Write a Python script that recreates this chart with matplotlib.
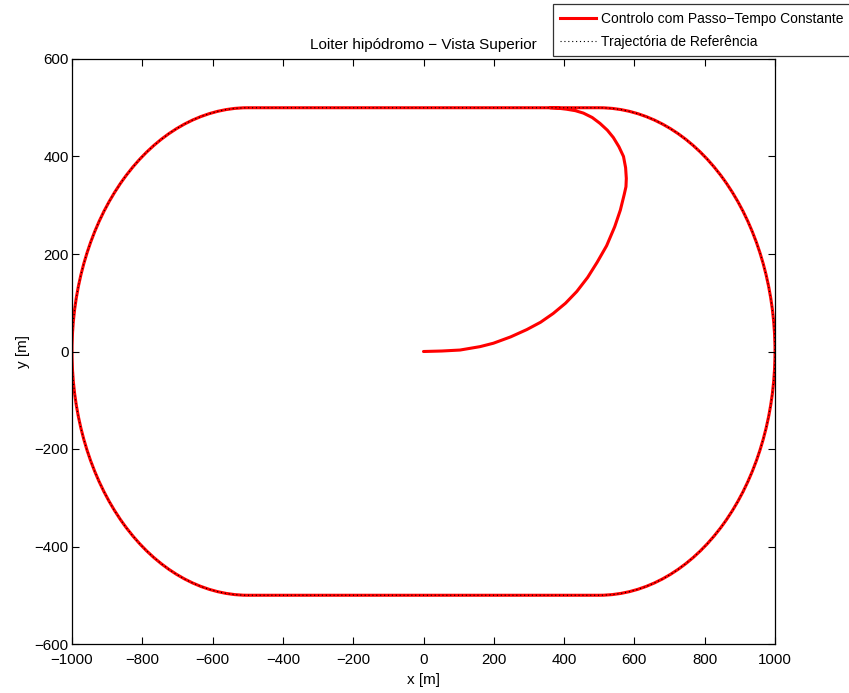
import matplotlib
matplotlib.use("Agg")
import matplotlib.pyplot as plt
from matplotlib.path import Path
from matplotlib.patches import PathPatch
from matplotlib.lines import Line2D

plt.rcParams['font.family'] = ['Liberation Sans', 'DejaVu Sans']

# ---- data ----
# reference racetrack: straights at y = +/-500 between x = -500 and 500,
# semicircular ends of radius 500 centred at x = +/-500
straight_x = [-500, 500]
straight_y = [500, -500]
turn_centres_x = [500, -500]
turn_radius = 500

# controlled trajectory: transition from the origin onto the track
inner_x = [0, 52, 104, 161, 199, 248, 294, 333, 369, 404, 436, 467, 494, 521,
           544, 560, 571, 576, 577, 575, 569, 556, 540, 523, 502, 480, 455, 432,
           407, 384, 360]
inner_y = [0, 1, 3, 10, 17, 30, 45, 60, 78, 99, 123, 152, 183, 217,
           256, 290, 322, 338, 355, 377, 400, 420, 439, 454, 468, 480, 489, 494,
           497, 499, 500]

xticks = [-1000, -800, -600, -400, -200, 0, 200, 400, 600, 800, 1000]
yticks = [-600, -400, -200, 0, 200, 400, 600]

title = "Loiter hipódromo \u2212 Vista Superior"
label_ctrl = "Controlo com Passo\u2212Tempo Constante"
label_ref = "Trajectória de Referência"


def track_segments(verts, codes):
    """Append the racetrack (counter-clockwise, from the right end of the
    top straight) to a vertex/code list as one continuous stroke."""
    r = turn_radius
    codes.append(Path.LINETO); verts.append((straight_x[0], straight_y[0]))
    arc = Path.arc(90, 270)
    for v, c in zip(arc.vertices[1:], arc.codes[1:]):
        verts.append((turn_centres_x[1] + r*v[0], r*v[1])); codes.append(c)
    codes.append(Path.LINETO); verts.append((straight_x[1], straight_y[1]))
    arc = Path.arc(-90, 90)
    for v, c in zip(arc.vertices[1:], arc.codes[1:]):
        verts.append((turn_centres_x[0] + r*v[0], r*v[1])); codes.append(c)


fig = plt.figure(figsize=(8.49, 6.93), dpi=100)
ax = fig.add_axes([72/849, 1-644/693, (775-72)/849, (644-59)/693])

red = (1.0, 0.0, 0.0)
lw_red = 2.2
dots = (0, (1, 2.5))

# controlled trajectory (red): transition curve followed by the full track
v_ctrl = [(inner_x[0], inner_y[0])]
c_ctrl = [Path.MOVETO]
for x, y in zip(inner_x[1:], inner_y[1:]):
    v_ctrl.append((x, y)); c_ctrl.append(Path.LINETO)
track_segments(v_ctrl, c_ctrl)
v_ctrl.append((inner_x[-1], inner_y[-1])); c_ctrl.append(Path.LINETO)
p_ctrl = PathPatch(Path(v_ctrl, c_ctrl), fill=False, edgecolor=red, lw=lw_red,
                   capstyle='round', joinstyle='round')
ax.add_patch(p_ctrl)

# reference trajectory (black dotted)
v_ref = [(straight_x[1], straight_y[0])]
c_ref = [Path.MOVETO]
track_segments(v_ref, c_ref)
p_ref = PathPatch(Path(v_ref, c_ref), fill=False, edgecolor='black', lw=0.8,
                  linestyle=dots)
ax.add_patch(p_ref)

ax.set_xlim(-1000, 1000)
ax.set_ylim(-600, 600)
ax.set_xticks(xticks)
ax.set_yticks(yticks)
ax.tick_params(direction='in', length=5, width=0.8, top=True, right=True,
               labelsize=10.8)
ax.tick_params(axis='x', pad=6.5)
ax.tick_params(axis='y', pad=2.5)
for s in ax.spines.values():
    s.set_linewidth(0.9)

ax.set_title(title, fontsize=11, pad=7)
ax.set_xlabel("x [m]", fontsize=11, labelpad=4.5)
ax.set_ylabel("y [m]", fontsize=11, labelpad=3)

h_ctrl = Line2D([], [], color=red, lw=lw_red)
h_ref = Line2D([], [], color='black', lw=0.8, ls=dots)
leg = fig.legend([h_ctrl, h_ref], [label_ctrl, label_ref], loc='upper right',
                 bbox_to_anchor=(1.002, 1 - 4/693), bbox_transform=fig.transFigure,
                 fontsize=10, frameon=True, fancybox=False, handlelength=2.6,
                 borderpad=0.55, labelspacing=0.65, handletextpad=0.3,
                 borderaxespad=0.0)
leg.get_frame().set_edgecolor('black')
leg.get_frame().set_linewidth(0.9)

fig.savefig("out.png", dpi=100)
